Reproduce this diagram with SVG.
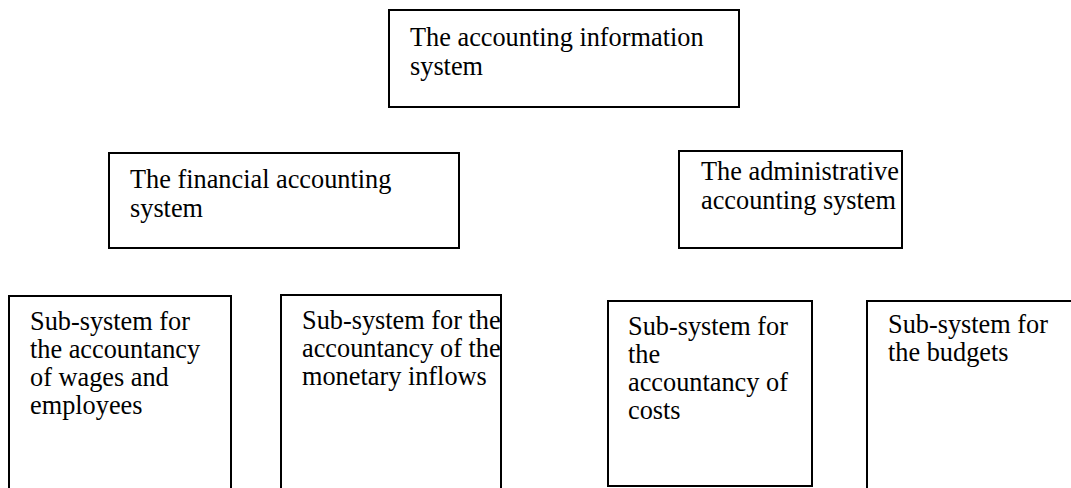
<svg xmlns="http://www.w3.org/2000/svg" width="1071" height="488" viewBox="0 0 1071 488">
<style>
.box{fill:#fff;stroke:#000;stroke-width:2}
.t{font-family:"Liberation Serif","Times New Roman",serif;font-size:26.3px;fill:#000}
</style>
<rect width="1071" height="488" fill="#fff"/>
<g id="connectors"></g>
<g id="ais">
<rect class="box" x="389" y="10" width="350" height="97"/>
<text class="t"><tspan x="410" y="46">The accounting information</tspan><tspan x="410" y="75">system</tspan></text>
</g>
<g id="fas">
<rect class="box" x="109" y="153" width="350" height="95"/>
<text class="t"><tspan x="130" y="188">The financial accounting</tspan><tspan x="130" y="217">system</tspan></text>
</g>
<g id="admin">
<rect class="box" x="679" y="151" width="223" height="97"/>
<text class="t"><tspan x="701" y="180">The administrative</tspan><tspan x="701" y="209">accounting system</tspan></text>
</g>
<g id="wages">
<rect class="box" x="9" y="296" width="222" height="200"/>
<text class="t"><tspan x="30" y="330">Sub-system for</tspan><tspan x="30" y="358">the accountancy</tspan><tspan x="30" y="386">of wages and</tspan><tspan x="30" y="414">employees</tspan></text>
</g>
<g id="inflows">
<rect class="box" x="281" y="295" width="220" height="200"/>
<text class="t"><tspan x="302" y="329">Sub-system for the</tspan><tspan x="302" y="357">accountancy of the</tspan><tspan x="302" y="385">monetary inflows</tspan></text>
</g>
<g id="costs">
<rect class="box" x="608" y="301" width="204" height="185"/>
<text class="t"><tspan x="628" y="335">Sub-system for</tspan><tspan x="628" y="363">the</tspan><tspan x="628" y="391">accountancy of</tspan><tspan x="628" y="419">costs</tspan></text>
</g>
<g id="budgets">
<rect class="box" x="867" y="301" width="220" height="200"/>
<text class="t"><tspan x="888" y="333">Sub-system for</tspan><tspan x="888" y="361">the budgets</tspan></text>
</g>
</svg>
